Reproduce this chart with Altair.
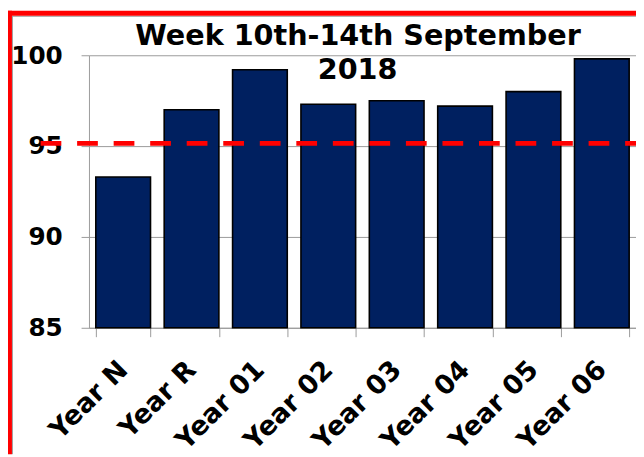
import altair as alt
import pandas as pd

categories = ["Year N", "Year R", "Year 01", "Year 02", "Year 03", "Year 04", "Year 05", "Year 06"]
values = [93.3, 97.0, 99.2, 97.3, 97.5, 97.2, 98.0, 99.8]
target = 95.15
y_ticks = [85, 90, 95, 100]
title_lines = ["Week 10th-14th September", "2018"]

W, H = 554, 276
PAD = {"left": 82, "top": 45, "right": 0, "bottom": 128}
FONT = "DejaVu Sans"
GREY = "#9a9a9a"

df = pd.DataFrame({"cat": categories, "val": values})

bars = alt.Chart(df).mark_bar(
    color="#002060", stroke="black", strokeWidth=1.6
).encode(
    x=alt.X("cat:N", sort=categories,
            scale=alt.Scale(paddingInner=0.2, paddingOuter=0.1),
            axis=alt.Axis(title=None, labelAngle=-45, labelAlign="right",
                          labelBaseline="middle", labelPadding=29,
                          labelFontSize=27, labelFontWeight="bold", labelFont=FONT,
                          labelColor="black", tickBand="extent", tickSize=9,
                          tickColor=GREY, domainColor=GREY, grid=False)),
    y=alt.Y("val:Q", scale=alt.Scale(domain=[85, 100], zero=False, nice=False),
            axis=alt.Axis(title=None, values=y_ticks, labelFontSize=25,
                          labelFontWeight="bold", labelFont=FONT, labelColor="black",
                          labelPadding=19, tickSize=8, tickColor=GREY,
                          domainColor=GREY, gridColor=GREY, grid=True)),
    y2=alt.datum(85),
)

target_line = alt.Chart(pd.DataFrame({"t": [target]})).mark_rule(
    color="#ff0000", strokeWidth=5, strokeDash=[21, 16]
).encode(y=alt.Y("t:Q"), x=alt.value(-49), x2=alt.value(W))

title1 = alt.Chart(pd.DataFrame({"t": [title_lines[0]]})).mark_text(
    font=FONT, fontSize=29, fontWeight="bold", align="center", baseline="alphabetic", color="black"
).encode(text="t:N", x=alt.value(272.5), y=alt.value(-10))

title2 = alt.Chart(pd.DataFrame({"t": [title_lines[1]]})).mark_text(
    font=FONT, fontSize=29, fontWeight="bold", align="center", baseline="alphabetic", color="black"
).encode(text="t:N", x=alt.value(272), y=alt.value(24))

one = pd.DataFrame({"a": [0]})
border_left = alt.Chart(one).mark_rule(color="#ff0000", strokeWidth=4).encode(
    x=alt.value(-80), y=alt.value(-45), y2=alt.value(H + PAD["bottom"]))
border_top = alt.Chart(one).mark_rule(color="#ff0000", strokeWidth=5).encode(
    y=alt.value(-42.5), x=alt.value(-82), x2=alt.value(W))
inner_left = alt.Chart(one).mark_rule(color=GREY, strokeWidth=1).encode(
    x=alt.value(-77.5), y=alt.value(-40), y2=alt.value(H + PAD["bottom"]))
inner_top = alt.Chart(one).mark_rule(color=GREY, strokeWidth=1).encode(
    y=alt.value(-39.5), x=alt.value(-78), x2=alt.value(W))

chart = alt.layer(
    bars, target_line, title1, title2, inner_left, inner_top, border_left, border_top
).properties(
    width=W, height=H,
    autosize=alt.AutoSizeParams(type="none"),
    padding=PAD,
    background="white",
).configure_view(stroke=None)

chart.save("out.html", embed_options={"renderer": "svg", "actions": False})
